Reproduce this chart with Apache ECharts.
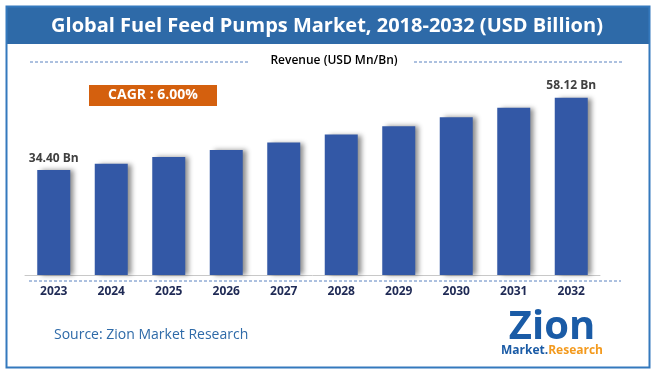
<!DOCTYPE html>
<html>
<head>
<meta charset="utf-8">
<script src="https://cdn.jsdelivr.net/npm/echarts@6/dist/echarts.min.js"></script>
<style>
  html, body { margin: 0; padding: 0; background: #fff; }
  #chart { width: 656px; height: 375px; }
</style>
</head>
<body>
<div id="chart"></div>
<script>
// 数据
const years = ['2023', '2024', '2025', '2026', '2027', '2028', '2029', '2030', '2031', '2032']
const revenue = [34.40, 36.46, 38.65, 40.97, 43.43, 46.03, 48.80, 51.72, 54.83, 58.12]
// 只在首尾两根柱子上显示数值
const labelledYears = ['2023', '2032']

const titleText = 'Global Fuel Feed Pumps Market, 2018-2032 (USD Billion)'
const legendText = 'Revenue (USD Mn/Bn)'
const cagrText = 'CAGR : 6.00%'
const sourceText = 'Source: Zion Market Research'

const font = '"Open Sans", "Noto Sans", sans-serif'
const blue = '#2E6AA8'

const chart = echarts.init(document.getElementById('chart'))

const option = {
  animation: false,
  grid: { left: 25, right: 56, top: 61.5, bottom: 100 },
  xAxis: {
    type: 'category',
    data: years,
    axisLine: { lineStyle: { color: '#C8C8C8', width: 1 } },
    axisTick: { show: false },
    axisLabel: {
      margin: 11,
      fontFamily: font,
      fontSize: 12,
      fontWeight: 'bold',
      color: '#1F2A55',
    },
  },
  yAxis: {
    type: 'value',
    min: 0,
    max: 70,
    show: false,
    splitLine: { show: false },
  },
  series: [
    {
      type: 'bar',
      data: revenue,
      barWidth: 33,
      itemStyle: {
        color: '#3358A6',
        shadowColor: 'rgba(0,0,0,0.45)',
        shadowBlur: 5,
        shadowOffsetX: 4,
        shadowOffsetY: 0,
      },
      label: {
        show: true,
        position: 'top',
        distance: 6,
        fontFamily: font,
        fontSize: 12,
        fontWeight: 'bold',
        color: '#404040',
        formatter: (p) => (labelledYears.includes(p.name) ? p.value.toFixed(2) + ' Bn' : ''),
      },
    },
  ],
  graphic: [
    // 外框
    {
      type: 'rect',
      shape: { x: 6.5, y: 6.5, width: 643, height: 361 },
      style: { fill: 'none', stroke: '#3479BD', lineWidth: 2 },
      z: 10,
    },
    // 标题栏
    {
      type: 'rect',
      shape: { x: 7, y: 7, width: 642, height: 37 },
      style: { fill: blue },
      z: 9,
    },
    {
      type: 'text',
      x: 327,
      y: 26,
      style: {
        text: titleText,
        fill: '#fff',
        font: 'bold 20px ' + font,
        align: 'center',
        verticalAlign: 'middle',
      },
      z: 11,
    },
    // 图例文字和两侧虚线
    {
      type: 'text',
      x: 334,
      y: 61,
      style: {
        text: legendText,
        fill: '#000',
        font: '600 12px ' + font,
        align: 'center',
        verticalAlign: 'middle',
      },
    },
    {
      type: 'line',
      shape: { x1: 30, y1: 62, x2: 250, y2: 62 },
      style: { stroke: '#5B82C0', lineWidth: 1, lineDash: [3, 2] },
    },
    {
      type: 'line',
      shape: { x1: 414, y1: 62, x2: 622, y2: 62 },
      style: { stroke: '#5B82C0', lineWidth: 1, lineDash: [3, 2] },
    },
    // CAGR 标签
    {
      type: 'rect',
      shape: { x: 89, y: 85, width: 128, height: 21 },
      style: { fill: '#D4600E' },
    },
    {
      type: 'text',
      x: 153,
      y: 95.5,
      style: {
        text: cagrText,
        fill: '#fff',
        font: 'bold 14px ' + font,
        align: 'center',
        verticalAlign: 'middle',
      },
    },
    // 坐标轴下方虚线
    {
      type: 'line',
      shape: { x1: 29, y1: 281, x2: 621, y2: 281 },
      style: { stroke: '#5B82C0', lineWidth: 1, lineDash: [3, 2] },
    },
    // 来源
    {
      type: 'text',
      x: 54,
      y: 335,
      style: {
        text: sourceText,
        fill: blue,
        font: '14px ' + font,
        verticalAlign: 'middle',
      },
    },
    // Zion 标志
    {
      type: 'text',
      x: 552,
      y: 328,
      style: {
        text: 'Zion',
        fill: '#1A5BA6',
        font: 'bold 40px ' + font,
        align: 'center',
        verticalAlign: 'middle',
      },
    },
    {
      type: 'text',
      x: 552,
      y: 351,
      style: {
        rich: {
          m: { fill: '#1A5BA6', font: 'bold 12px ' + font },
          r: { fill: '#F39A1E', font: 'bold 12px ' + font },
        },
        text: '{m|Market.}{r|Research}',
        align: 'center',
        verticalAlign: 'middle',
      },
    },
  ],
}

chart.setOption(option)
</script>
</body>
</html>
